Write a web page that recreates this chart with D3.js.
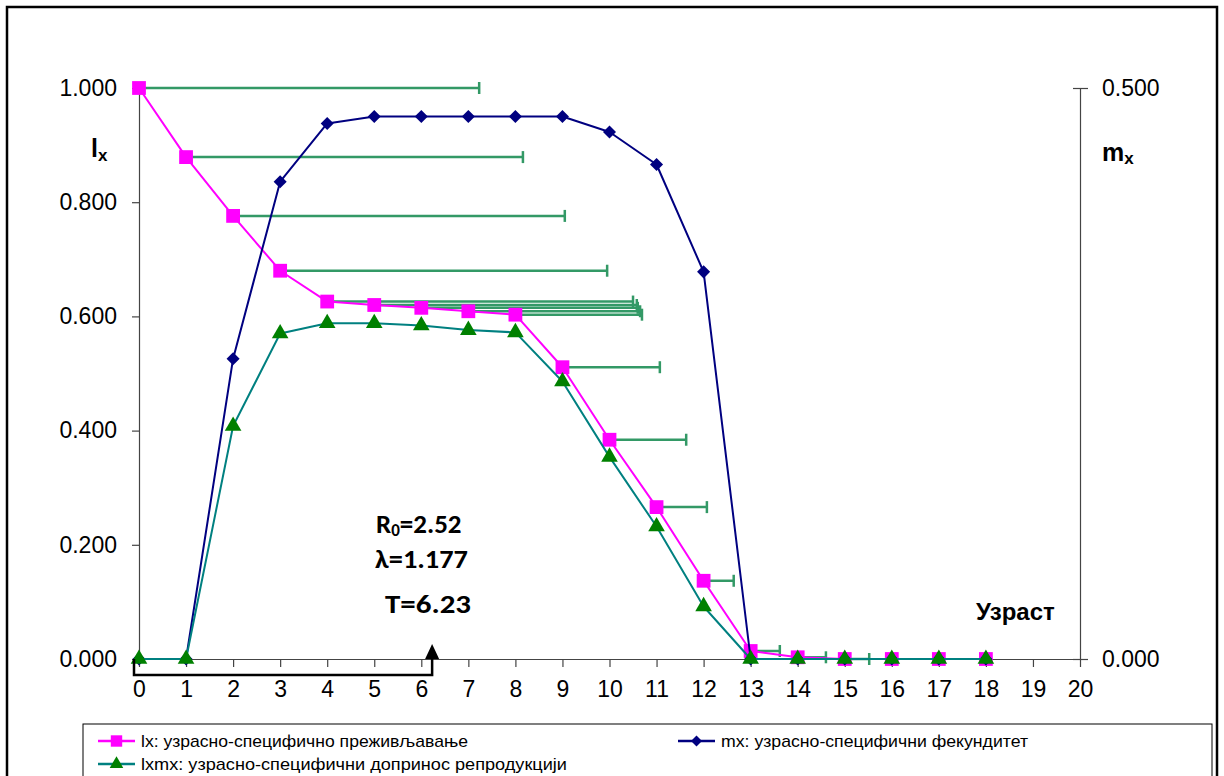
<!DOCTYPE html>
<html>
<head>
<meta charset="utf-8">
<script src="https://cdn.jsdelivr.net/npm/d3@7"></script>
<style>
  body { margin: 0; background: #fff; }
  svg { display: block; }
</style>
</head>
<body>
<svg id="chart" width="1224" height="776"></svg>
<script>
// Life table by age class
const ages = d3.range(0, 19);
const lx   = [1.000, 0.879, 0.776, 0.680, 0.626, 0.620, 0.615, 0.609, 0.603, 0.511, 0.384, 0.266, 0.137, 0.014, 0.003, 0, 0, 0, 0];
const mx   = [0, 0, 0.263, 0.418, 0.469, 0.475, 0.475, 0.475, 0.475, 0.475, 0.4615, 0.433, 0.339, 0, 0, 0, 0, 0, 0];
const lxmx = [0, 0, 0.204, 0.285, 0.294, 0.294, 0.292, 0.288, 0.286, 0.243, 0.177, 0.116, 0.046, 0, 0, 0, 0, 0, 0];
// length of the horizontal bar drawn to the right of each lx point (ages 0-15)
const exBar = [7.23, 7.16, 7.05, 6.95, 6.50, 5.58, 4.60, 3.65, 2.69, 2.07, 1.63, 1.07, 0.64, 0.62, 0.60, 0.52];

const xTicks = d3.range(0, 21);
const leftTicks = [0, 0.2, 0.4, 0.6, 0.8, 1.0];
const rightTicks = [0, 0.5];

const R0 = "2.52";
const lambda = "1.177";
const generationTime = 6.23;

const legendItems = [
  { key: "lx",   text: "lx: узрасно-специфично преживљавање" },
  { key: "mx",   text: "mx: узрасно-специфични фекундитет" },
  { key: "lxmx", text: "lxmx: узрасно-специфични допринос репродукцији" }
];

const colors = { lx: "#FF00FF", mx: "#000080", lxmxLine: "#008080", lxmxMark: "#008000", bar: "#339966" };

const svg = d3.select("#chart");

// outer frame
svg.append("rect").attr("x", 7).attr("y", 7).attr("width", 1210).attr("height", 800)
  .attr("fill", "none").attr("stroke", "#000").attr("stroke-width", 2.5);

const x  = d3.scaleLinear().domain([0, 20]).range([139, 1080]);
const yL = d3.scaleLinear().domain([0, 1]).range([659, 88]);
const yR = d3.scaleLinear().domain([0, 0.5]).range([659, 88]);

const tickFont = "'Liberation Sans', Arial, sans-serif";

// left axis
const gL = svg.append("g").attr("transform", `translate(${x(0)},0)`)
  .call(d3.axisLeft(yL).tickValues(leftTicks).tickFormat(d3.format(".3f"))
    .tickSizeInner(7).tickSizeOuter(0).tickPadding(15));
// right axis
const gR = svg.append("g").attr("transform", `translate(${x(20)},0)`)
  .call(d3.axisRight(yR).tickValues(rightTicks).tickFormat(d3.format(".3f"))
    .tickSizeInner(8).tickSizeOuter(0).tickPadding(14));
gR.selectAll(".tick line").attr("x1", -7);
// bottom axis
const gB = svg.append("g").attr("transform", `translate(0,${yL(0)})`)
  .call(d3.axisBottom(x).tickValues(xTicks).tickFormat(d3.format("d"))
    .tickSizeInner(8).tickSizeOuter(0).tickPadding(14));

[gL, gR, gB].forEach(g => {
  g.selectAll("path.domain").attr("stroke", "#444").attr("stroke-width", 1.2);
  g.selectAll(".tick line").attr("stroke", "#444").attr("stroke-width", 1.2);
  g.selectAll(".tick text").attr("fill", "#000").style("font-family", tickFont).style("font-size", "23px");
});

// axis titles
const lxTitle = svg.append("text").attr("x", 91).attr("y", 157)
  .style("font-family", tickFont).style("font-weight", "bold").style("font-size", "25px");
lxTitle.append("tspan").text("l");
lxTitle.append("tspan").attr("dy", 4).style("font-size", "17px").text("x");

const mxTitle = svg.append("text").attr("x", 1102).attr("y", 161)
  .style("font-family", tickFont).style("font-weight", "bold").style("font-size", "25px");
mxTitle.append("tspan").text("m");
mxTitle.append("tspan").attr("dy", 3).style("font-size", "17px").text("x");

svg.append("text").attr("x", 976).attr("y", 620)
  .style("font-family", tickFont).style("font-weight", "bold").style("font-size", "24px")
  .text("Узраст");

// horizontal bars from each lx point
const barData = exBar.map((len, i) => ({ age: i, y: lx[i], len }));
const bars = svg.append("g").attr("stroke", colors.bar).attr("stroke-width", 2.5).attr("fill", "none");
bars.selectAll("line.h").data(barData).join("line").attr("class", "h")
  .attr("x1", d => x(d.age)).attr("x2", d => x(d.age + d.len))
  .attr("y1", d => yL(d.y)).attr("y2", d => yL(d.y));
bars.selectAll("line.cap").data(barData).join("line").attr("class", "cap")
  .attr("x1", d => x(d.age + d.len)).attr("x2", d => x(d.age + d.len))
  .attr("y1", d => yL(d.y) - 6).attr("y2", d => yL(d.y) + 6);

// series
function drawSeries(values, scale, lineColor, lineWidth, symbol, size, markColor) {
  const pts = ages.map((a, i) => [x(a), scale(values[i])]);
  svg.append("path").datum(pts)
    .attr("d", d3.line())
    .attr("fill", "none").attr("stroke", lineColor).attr("stroke-width", lineWidth)
    .attr("stroke-linejoin", "round");
  svg.append("g").selectAll("path").data(pts).join("path")
    .attr("transform", d => `translate(${d[0]},${d[1]})`)
    .attr("d", d3.symbol().type(symbol).size(size))
    .attr("fill", markColor);
}

const diamond = {
  draw(ctx, size) {
    const r = Math.sqrt(size / 2);
    ctx.moveTo(0, -r); ctx.lineTo(r, 0); ctx.lineTo(0, r); ctx.lineTo(-r, 0); ctx.closePath();
  }
};

drawSeries(lx, yL, colors.lx, 2, d3.symbolSquare, 190, colors.lx);
drawSeries(mx, yR, colors.mx, 2, diamond, 85, colors.mx);
drawSeries(lxmx, yR, colors.lxmxLine, 2, d3.symbolTriangle, 120, colors.lxmxMark);

// statistics annotation
const statFont = "Carlito, Lato, 'Open Sans', sans-serif";
const r0Text = svg.append("text").attr("x", 376).attr("y", 533)
  .style("font-family", statFont).style("font-weight", "bold").style("font-size", "27px");
r0Text.append("tspan").text("R");
r0Text.append("tspan").attr("dy", 3).style("font-size", "17px").text("0");
r0Text.append("tspan").attr("dy", -3).text("=" + R0);

svg.append("text").attr("x", 375).attr("y", 568)
  .attr("textLength", 93).attr("lengthAdjust", "spacingAndGlyphs")
  .style("font-family", statFont).style("font-weight", "bold").style("font-size", "27px")
  .text("λ=" + lambda);
svg.append("text").attr("x", 385).attr("y", 613)
  .attr("textLength", 86).attr("lengthAdjust", "spacingAndGlyphs")
  .style("font-family", statFont).style("font-weight", "bold").style("font-size", "27px")
  .text("T=" + generationTime.toFixed(2));

// generation-time bracket with arrow
const bx0 = x(0) - 5, bx1 = x(generationTime), by = yL(0) + 16;
svg.append("path")
  .attr("d", `M${bx0},${yL(0)} L${bx0},${by} L${bx1},${by} L${bx1},${yL(0) - 2}`)
  .attr("fill", "none").attr("stroke", "#000").attr("stroke-width", 2.5);
svg.append("path")
  .attr("d", `M${bx1},${yL(0) - 15} L${bx1 + 7},${yL(0)} L${bx1 - 7},${yL(0)} Z`)
  .attr("fill", "#000");

// legend
svg.append("rect").attr("x", 83).attr("y", 724).attr("width", 1129).attr("height", 70)
  .attr("fill", "#fff").attr("stroke", "#000").attr("stroke-width", 1);

const legendPos = {
  lx:   { x: 98,  y: 741, w: 327 },
  mx:   { x: 678, y: 741, w: 307 },
  lxmx: { x: 98,  y: 764, w: 426 }
};
const legendStyle = {
  lx:   { line: colors.lx, sym: d3.symbolSquare, size: 130, fill: colors.lx },
  mx:   { line: colors.mx, sym: diamond, size: 60, fill: colors.mx },
  lxmx: { line: colors.lxmxLine, sym: d3.symbolTriangle, size: 80, fill: colors.lxmxMark }
};
legendItems.forEach(item => {
  const p = legendPos[item.key], s = legendStyle[item.key];
  const g = svg.append("g").attr("transform", `translate(${p.x},${p.y})`);
  g.append("line").attr("x1", 0).attr("x2", 37).attr("y1", 0).attr("y2", 0)
    .attr("stroke", s.line).attr("stroke-width", 2.5);
  g.append("path").attr("transform", "translate(18.5,0)")
    .attr("d", d3.symbol().type(s.sym).size(s.size)).attr("fill", s.fill);
  g.append("text").attr("x", 43).attr("y", 6)
    .attr("textLength", p.w).attr("lengthAdjust", "spacingAndGlyphs")
    .style("font-family", tickFont).style("font-size", "17px")
    .text(item.text);
});
</script>
</body>
</html>
